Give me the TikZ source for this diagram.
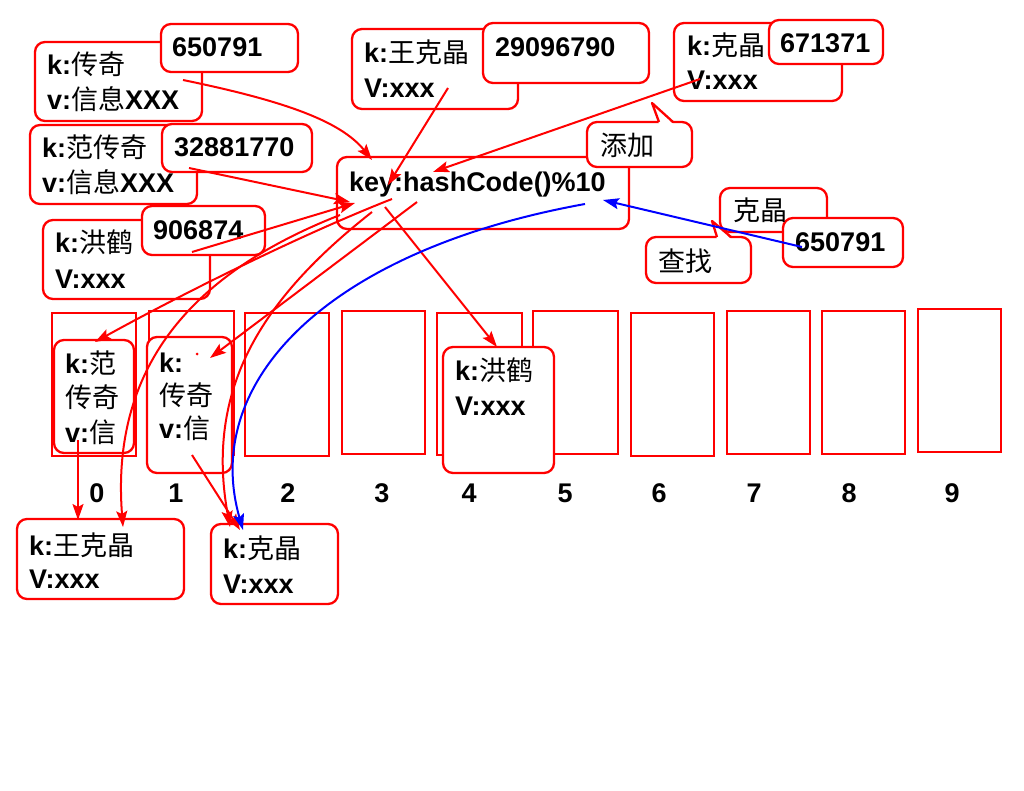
\documentclass[tikz,border=0pt]{standalone}
\usepackage{fontspec}
\setmainfont{Liberation Sans}
\newfontfamily\zhfont{Noto Sans CJK SC}
\usetikzlibrary{arrows.meta}
\newcommand\zh[1]{{\zhfont\mdseries#1}}
\begin{document}
\begin{tikzpicture}[x=1pt,y=-1pt,
  rbox/.style={draw=red, line width=2.3pt, rounded corners=10pt, fill=white, inner sep=0pt},
  bucket/.style={draw=red, line width=2.3pt, fill=white, inner sep=0pt},
  txt/.style={anchor=base west, inner sep=0pt, font=\fontsize{27pt}{32pt}\selectfont\bfseries},
  lbl/.style={anchor=base, inner sep=0pt, font=\fontsize{27pt}{32pt}\selectfont\bfseries},
  arr/.style={draw=red, line width=2pt, -{Stealth[length=16pt,width=11pt,inset=3pt]}},
  barr/.style={arr, draw=blue},
  tail/.style={draw=red, line width=2.3pt, line join=round}]
\useasboundingbox (0,0) rectangle (1024,791);
\fill[white] (0,0) rectangle (1024,791);

% buckets
\node[bucket, minimum width=84pt, minimum height=143pt] (k0) at (94,384.5) {};
\node[bucket, minimum width=85pt, minimum height=144pt] (k1) at (191.5,383) {};
\node[bucket, minimum width=84pt, minimum height=143pt] (k2) at (287,384.5) {};
\node[bucket, minimum width=83pt, minimum height=143pt] (k3) at (383.5,382.5) {};
\node[bucket, minimum width=85pt, minimum height=142pt] (k4) at (479.5,384) {};
\node[bucket, minimum width=85pt, minimum height=143pt] (k5) at (575.5,382.5) {};
\node[bucket, minimum width=83pt, minimum height=143pt] (k6) at (672.5,384.5) {};
\node[bucket, minimum width=83pt, minimum height=143pt] (k7) at (768.5,382.5) {};
\node[bucket, minimum width=83pt, minimum height=143pt] (k8) at (863.5,382.5) {};
\node[bucket, minimum width=83pt, minimum height=143pt] (k9) at (959.5,380.5) {};
\node[lbl] (l0) at (97,502) {0};
\node[lbl] (l1) at (176,502) {1};
\node[lbl] (l2) at (288,502) {2};
\node[lbl] (l3) at (382,502) {3};
\node[lbl] (l4) at (469,502) {4};
\node[lbl] (l5) at (565,502) {5};
\node[lbl] (l6) at (659,502) {6};
\node[lbl] (l7) at (754,502) {7};
\node[lbl] (l8) at (849,502) {8};
\node[lbl] (l9) at (952,502) {9};

% entries in buckets
\node[rbox, minimum width=80pt, minimum height=113pt] (cb0) at (94,396.5) {};
\node[rbox, minimum width=85pt, minimum height=136pt] (cb1) at (189.5,405) {};
\node[rbox, minimum width=111pt, minimum height=126pt] (cb4) at (498.5,410) {};
\node[rbox, minimum width=167pt, minimum height=80pt] (bW) at (100.5,559) {};
\node[rbox, minimum width=127pt, minimum height=80pt] (bK) at (274.5,564) {};
\fill[red] (197,354) circle (1.5pt);

% top-left pairs
\node[rbox, minimum width=167pt, minimum height=79pt] (bxA) at (118.5,81.5) {};
\node[rbox, minimum width=137pt, minimum height=48pt] (bxA2) at (229.5,48) {};
\node[rbox, minimum width=167pt, minimum height=79pt] (bxB) at (113.5,164.5) {};
\node[rbox, minimum width=150pt, minimum height=48pt] (bxB2) at (237,148) {};
\node[rbox, minimum width=167pt, minimum height=79pt] (bxC) at (126.5,259.5) {};
\node[rbox, minimum width=123pt, minimum height=49pt] (bxC2) at (203.5,230.5) {};

% hash box and callout
\node[rbox, minimum width=292pt, minimum height=72pt] (hash) at (483,193) {};
\node[rbox, minimum width=105pt, minimum height=45pt] (add) at (639.5,144.5) {};
\coordinate (addtip) at (652,103);
\fill[white] (659,124) -- (addtip) -- (673,124) -- cycle;
\draw[tail] (659,122) -- (addtip) -- (673,122);

% top-middle pairs
\node[rbox, minimum width=166pt, minimum height=80pt] (bxD) at (435,69) {};
\node[rbox, minimum width=166pt, minimum height=60pt] (bxD2) at (566,53) {};
\node[rbox, minimum width=168pt, minimum height=78pt] (bxE) at (758,62) {};
\node[rbox, minimum width=114pt, minimum height=44pt] (bxE2) at (826,42) {};

% search group
\node[rbox, minimum width=107pt, minimum height=44pt] (bxF) at (773.5,210) {};
\node[rbox, minimum width=105pt, minimum height=46pt] (find) at (698.5,260) {};
\coordinate (findtip) at (712,221);
\fill[white] (717,239) -- (findtip) -- (731,239) -- cycle;
\draw[tail] (717,237) -- (findtip) -- (731,237);
\node[rbox, minimum width=120pt, minimum height=49pt] (bxF2) at (843,242.5) {};

% texts
\node[txt] (tA1) at (47,75) {k:\zh{传奇}};
\node[txt] (tA2) at (47,110) {v:\zh{信息}XXX};
\node[txt] (tA3) at (172,57) {650791};
\node[txt] (tB1) at (42,158) {k:\zh{范传奇}};
\node[txt] (tB2) at (42,193) {v:\zh{信息}XXX};
\node[txt] (tB3) at (174,157) {32881770};
\node[txt] (tC1) at (55,253) {k:\zh{洪鹤}};
\node[txt] (tC2) at (55,288) {V:xxx};
\node[txt] (tC3) at (153,240) {906874};
\node[txt] (tD1) at (364,63) {k:\zh{王克晶}};
\node[txt] (tD2) at (364,98) {V:xxx};
\node[txt] (tD3) at (495,57) {29096790};
\node[txt] (tE1) at (687,56) {k:\zh{克晶}};
\node[txt] (tE2) at (687,90) {V:xxx};
\node[txt] (tE3) at (780,53) {671371};
\node[txt] (tH) at (349,192) {key:hashCode()\%10};
\node[txt] (tAdd) at (600,156) {\zh{添加}};
\node[txt] (tF1) at (733,221) {\zh{克晶}};
\node[txt] (tFind) at (658,272) {\zh{查找}};
\node[txt] (tF2) at (795,252) {650791};
\node[txt] (c0a) at (65,373) {k:\zh{范}};
\node[txt] (c0b) at (65,407) {\zh{传奇}};
\node[txt] (c0c) at (65,442) {v:\zh{信}};
\node[txt] (c1a) at (159,372) {k:};
\node[txt] (c1b) at (159,405) {\zh{传奇}};
\node[txt] (c1c) at (159,438) {v:\zh{信}};
\node[txt] (c4a) at (455,380) {k:\zh{洪鹤}};
\node[txt] (c4b) at (455,415) {V:xxx};
\node[txt] (w1) at (29,555) {k:\zh{王克晶}};
\node[txt] (w2) at (29,588) {V:xxx};
\node[txt] (q1) at (223,558) {k:\zh{克晶}};
\node[txt] (q2) at (223,593) {V:xxx};

% connector end points
\coordinate (a1) at (183,80);   \coordinate (h1) at (372,160);
\coordinate (a2) at (189,168);  \coordinate (h2) at (350,202);
\coordinate (a3) at (192,252);  \coordinate (h3) at (355,203);
\coordinate (a4) at (448,88);   \coordinate (h4) at (388,185);
\coordinate (a5) at (700,79);   \coordinate (h5) at (433,172);
\coordinate (o1) at (392,199);  \coordinate (e1) at (95,342);
\coordinate (o2) at (340,215);  \coordinate (e2) at (123,527);
\coordinate (o3) at (417,202);  \coordinate (e3) at (210,358);
\coordinate (o4) at (372,212);  \coordinate (e4) at (230,527);
\coordinate (o5) at (385,207);  \coordinate (e5) at (497,347);
\coordinate (o6) at (78,440);   \coordinate (e6) at (78,520);
\coordinate (o7) at (192,455);  \coordinate (e7) at (240,530);
\coordinate (s1) at (585,204);  \coordinate (s2) at (243,530);
\coordinate (f1) at (802,247);  \coordinate (f2) at (603,200);

% red connectors
\draw[arr] (a1) .. controls (280,100) and (340,120) .. (h1);
\draw[arr] (a2) -- (h2);
\draw[arr] (a3) -- (h3);
\draw[arr] (a4) -- (h4);
\draw[arr] (a5) -- (h5);
\draw[arr] (o1) .. controls (300,235) and (180,295) .. (e1);
\draw[arr] (o2) .. controls (200,270) and (110,360) .. (e2);
\draw[arr] (o3) -- (e3);
\draw[arr] (o4) .. controls (260,300) and (205,390) .. (e4);
\draw[arr] (o5) -- (e5);
\draw[arr] (o6) -- (e6);
\draw[arr] (o7) -- (e7);
% blue connectors
\draw[barr] (s1) .. controls (330,250) and (200,380) .. (s2);
\draw[barr] (f1) -- (f2);
\end{tikzpicture}
\end{document}
